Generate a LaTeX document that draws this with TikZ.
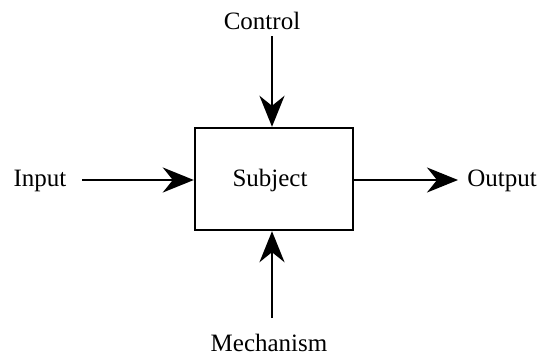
\documentclass[tikz,border=0pt]{standalone}
\usepackage{fontspec}
\setmainfont{Liberation Serif}
\usetikzlibrary{arrows.meta}
\begin{document}
\begin{tikzpicture}[x=1pt,y=-1pt,
  lbl/.style={font=\fontsize{25}{30}\selectfont, inner sep=0pt},
  flow/.style={line width=2.4pt, -{Stealth[length=31pt,width=25pt,inset=10pt]}},
  subj/.style={draw, line width=2.4pt, minimum width=158pt, minimum height=102pt, inner sep=0pt}]
\useasboundingbox (0,0) rectangle (539,356);
\node[subj] (S) at (274,179) {};
\node[lbl] (Sl) at (270,180) {Subject};
\node[lbl] (C) at (262,21) {Control};
\node[lbl] (I) at (40,181) {Input};
\node[lbl] (O) at (502,181) {Output};
\node[lbl] (M) at (269,343) {Mechanism};
\coordinate (cs) at (272,36);
\coordinate (is) at (82,180);
\coordinate (oe) at (458,180);
\coordinate (ms) at (272,318);
\draw[flow] (cs) -- (cs |- S.north);
\draw[flow] (is) -- (is -| S.west);
\draw[flow] (oe -| S.east) -- (oe);
\draw[flow] (ms) -- (ms |- S.south);
\end{tikzpicture}
\end{document}
